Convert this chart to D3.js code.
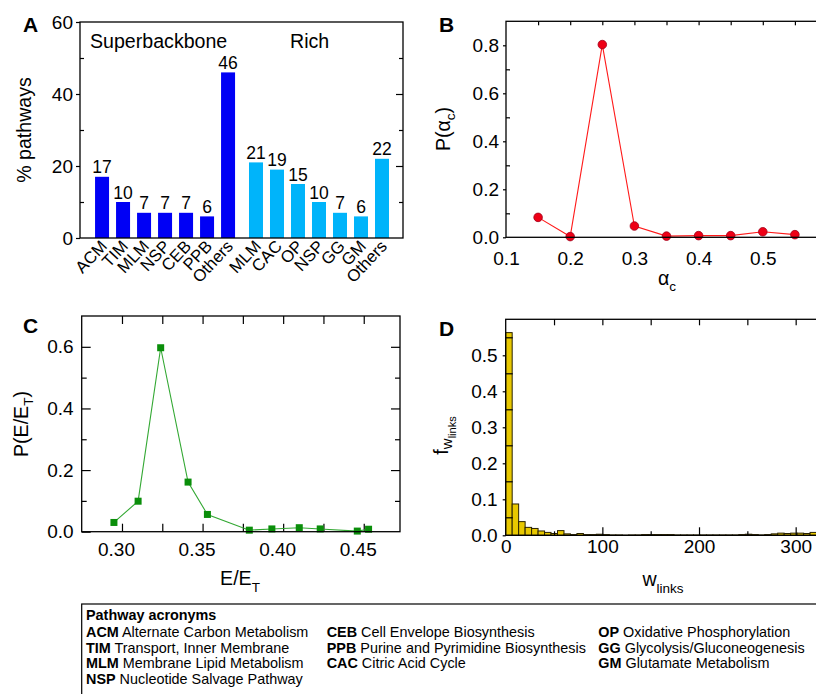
<!DOCTYPE html>
<html>
<head>
<meta charset="utf-8">
<script src="https://cdn.jsdelivr.net/npm/d3@7"></script>
<style>
body { margin: 0; background: #fff; }
svg { display: block; font-family: "Liberation Sans", Arial, Helvetica, sans-serif; }
</style>
</head>
<body>
<div id="chart"></div>
<script>
// Panel A: % pathways per group
var catsSB = ["ACM", "TIM", "MLM", "NSP", "CEB", "PPB", "Others"];
var valsSB = [17, 10, 7, 7, 7, 6, 46];
var catsRich = ["MLM", "CAC", "OP", "NSP", "GG", "GM", "Others"];
var valsRich = [21, 19, 15, 10, 7, 6, 22];

// Panel B: P(alpha_c)
var alphaC = [0.15, 0.20, 0.25, 0.30, 0.35, 0.40, 0.45, 0.50, 0.55];
var pAlpha = [0.083, 0.003, 0.803, 0.047, 0.005, 0.007, 0.007, 0.023, 0.011];

// Panel C: P(E/E_T)
var eRatio = [0.295, 0.310, 0.324, 0.341, 0.353, 0.379, 0.393, 0.410, 0.423, 0.446, 0.453];
var pE = [0.030, 0.099, 0.597, 0.161, 0.056, 0.005, 0.009, 0.013, 0.009, 0.002, 0.008];

// Panel D: histogram of w_links
var binW = 6.7;
var fLinks = [0.563, 0.087, 0.038, 0.022, 0.019, 0.012, 0.008, 0.005, 0.013, 0.004,
              0.002, 0.005, 0.002, 0.002, 0.003, 0.002, 0.001, 0.001, 0.0005, 0.001,
              0.001, 0.002, 0.002, 0.002, 0.002, 0.002, 0.001, 0.001, 0.001, 0.001,
              0.001, 0.001, 0.001, 0.001, 0.001, 0.001, 0.002, 0.003, 0.002, 0.001,
              0.002, 0.004, 0.006, 0.005, 0.006, 0.006, 0.005, 0.008, 0.010, 0.012];

// Legend
var legendCols = [
    [["ACM", "Alternate Carbon Metabolism"], ["TIM", "Transport, Inner Membrane"],
     ["MLM", "Membrane Lipid Metabolism"], ["NSP", "Nucleotide Salvage Pathway"]],
    [["CEB", "Cell Envelope Biosynthesis"], ["PPB", "Purine and Pyrimidine Biosynthesis"],
     ["CAC", "Citric Acid Cycle"]],
    [["OP", "Oxidative Phosphorylation"], ["GG", "Glycolysis/Gluconeogenesis"],
     ["GM", "Glutamate Metabolism"]]
];

var svg = d3.select("#chart")
    .append("svg")
    .attr("width", 816)
    .attr("height", 694);

var TICK_FS = 19;
var TITLE_FS = "19.6px";

// helper: add an axis, strip the domain, style the labels
function addAxis(gen, tx, ty) {
    var a = svg.append("g")
        .attr("transform", "translate(" + tx + "," + ty + ")")
        .attr("font-size", null)
        .attr("font-family", null)
        .call(gen);
    a.select(".domain").remove();
    a.selectAll("line").attr("stroke", "#000").attr("stroke-width", 1.2);
    a.selectAll("text").style("font-size", TICK_FS + "px").attr("fill", "#000");
    return a;
}

function frame(x0, y0, x1, y1) {
    svg.append("rect")
        .attr("x", x0).attr("y", y0)
        .attr("width", x1 - x0).attr("height", y1 - y0)
        .attr("fill", "none").attr("stroke", "#000").attr("stroke-width", 1.3);
}

function panelLetter(t, x, y) {
    svg.append("text").attr("x", x).attr("y", y)
        .style("font-size", "21px").style("font-weight", "bold").text(t);
}

// ---------------- Panel A ----------------
var xA = d3.scaleLinear().domain([-1.05, 14.33]).range([80, 403]);
var yA = d3.scaleLinear().domain([0, 60]).range([238, 22]);
var barHalf = (xA(1) - xA(0)) / 3;
var richOffset = 7.33;

var barsA = [];
catsSB.forEach(function(c, i) { barsA.push({cat: c, v: valsSB[i], pos: i, col: "#0000f5"}); });
catsRich.forEach(function(c, i) { barsA.push({cat: c, v: valsRich[i], pos: i + richOffset, col: "#00b4fa"}); });

svg.append("g").selectAll("rect")
    .data(barsA)
    .enter()
    .append("rect")
    .attr("x", function(d) { return xA(d.pos) - barHalf; })
    .attr("y", function(d) { return yA(d.v); })
    .attr("width", barHalf * 2)
    .attr("height", function(d) { return yA(0) - yA(d.v); })
    .attr("fill", function(d) { return d.col; });

svg.append("g").selectAll("text")
    .data(barsA)
    .enter()
    .append("text")
    .attr("x", function(d) { return xA(d.pos); })
    .attr("y", function(d) { return yA(d.v) - 3.5; })
    .attr("text-anchor", "middle")
    .style("font-size", "17.5px")
    .text(function(d) { return d.v; });

// rotated category labels
svg.append("g").selectAll("text")
    .data(barsA)
    .enter()
    .append("text")
    .attr("transform", function(d) {
        return "translate(" + (xA(d.pos) + 6) + "," + 247 + ") rotate(-47)";
    })
    .attr("text-anchor", "end")
    .style("font-size", "16.8px")
    .text(function(d) { return d.cat; });

addAxis(d3.axisLeft(yA).tickValues([0, 20, 40, 60]).tickSizeInner(4).tickSizeOuter(0).tickPadding(3), 80, 0);
addAxis(d3.axisLeft(yA).tickValues([10, 30, 50]).tickSizeInner(-4).tickSizeOuter(0).tickFormat(""), 80, 0);
addAxis(d3.axisRight(yA).tickValues([20, 40]).tickSizeInner(-7).tickSizeOuter(0).tickFormat(""), 403, 0);
addAxis(d3.axisRight(yA).tickValues([10, 30, 50]).tickSizeInner(-4).tickSizeOuter(0).tickFormat(""), 403, 0);
frame(80, 22, 403, 238);

svg.append("text").attr("x", 90).attr("y", 48).style("font-size", TITLE_FS).text("Superbackbone");
svg.append("text").attr("x", 290).attr("y", 48).style("font-size", TITLE_FS).text("Rich");
svg.append("text")
    .attr("transform", "translate(31,130) rotate(-90)")
    .attr("text-anchor", "middle")
    .style("font-size", TITLE_FS)
    .text("% pathways");
panelLetter("A", 23, 32);

// ---------------- Panel B ----------------
var xB = d3.scaleLinear().domain([0.1, 0.6]).range([506, 827]);
var yB = d3.scaleLinear().domain([0, 0.9]).range([237.3, 21.3]);

addAxis(d3.axisBottom(xB).tickValues([0.1, 0.2, 0.3, 0.4, 0.5]).tickSizeInner(0).tickSizeOuter(0)
    .tickPadding(14.5).tickFormat(d3.format(".1f")), 0, 237.3);
addAxis(d3.axisTop(xB).tickValues(d3.range(0.15, 0.58, 0.05)).tickSizeInner(-4).tickSizeOuter(0).tickFormat(""), 0, 21.3);
addAxis(d3.axisLeft(yB).tickValues([0, 0.2, 0.4, 0.6, 0.8]).tickSizeInner(3).tickSizeOuter(0)
    .tickPadding(4).tickFormat(d3.format(".1f")), 506, 0);
addAxis(d3.axisLeft(yB).tickValues([0.1, 0.3, 0.5, 0.7]).tickSizeInner(-4).tickSizeOuter(0).tickFormat(""), 506, 0);

var lineB = d3.line()
    .x(function(d, i) { return xB(alphaC[i]); })
    .y(function(d) { return yB(d); });
svg.append("path")
    .attr("d", lineB(pAlpha))
    .attr("fill", "none").attr("stroke", "#ff1a1a").attr("stroke-width", 1.1);
svg.append("g").selectAll("circle")
    .data(pAlpha)
    .enter()
    .append("circle")
    .attr("cx", function(d, i) { return xB(alphaC[i]); })
    .attr("cy", function(d) { return yB(d); })
    .attr("r", 4.3)
    .attr("fill", "#ee0016").attr("stroke", "#a0001a").attr("stroke-width", 0.8);
frame(506, 21.3, 840, 237.3);

var tB = svg.append("text").attr("x", 667).attr("y", 285).attr("text-anchor", "middle").style("font-size", TITLE_FS);
tB.append("tspan").text("α");
tB.append("tspan").attr("dy", 6).style("font-size", "13.5px").text("c");
var tBy = svg.append("text").attr("transform", "translate(450,129) rotate(-90)")
    .attr("text-anchor", "middle").style("font-size", TITLE_FS);
tBy.append("tspan").text("P(α");
tBy.append("tspan").attr("dy", 5).style("font-size", "13.5px").text("c");
tBy.append("tspan").attr("dy", -5).text(")");
panelLetter("B", 439, 32);

// ---------------- Panel C ----------------
var xC = d3.scaleLinear().domain([0.275, 0.4725]).range([81.7, 400]);
var yC = d3.scaleLinear().domain([0, 0.7]).range([531.7, 316]);

var axC = addAxis(d3.axisBottom(xC).tickValues([0.30, 0.35, 0.40, 0.45]).tickSizeInner(0).tickSizeOuter(0)
    .tickPadding(11).tickFormat(d3.format(".2f")), 0, 531.7);
axC.selectAll("text").attr("dx", -6);
var cTicks = d3.range(0.30, 0.47, 0.025);
addAxis(d3.axisTop(xC).tickValues(cTicks).tickSizeInner(-8).tickSizeOuter(0).tickFormat(""), 0, 316);
addAxis(d3.axisBottom(xC).tickValues(cTicks).tickSizeInner(-8).tickSizeOuter(0).tickFormat(""), 0, 531.7);
addAxis(d3.axisLeft(yC).tickValues([0, 0.2, 0.4, 0.6]).tickSizeInner(-9).tickSizeOuter(0)
    .tickPadding(8).tickFormat(d3.format(".1f")), 81.7, 0);
addAxis(d3.axisLeft(yC).tickValues([0.1, 0.3, 0.5]).tickSizeInner(-5).tickSizeOuter(0).tickFormat(""), 81.7, 0);
addAxis(d3.axisRight(yC).tickValues([0.2, 0.4, 0.6]).tickSizeInner(-9).tickSizeOuter(0).tickFormat(""), 400, 0);
addAxis(d3.axisRight(yC).tickValues([0.1, 0.3, 0.5]).tickSizeInner(-5).tickSizeOuter(0).tickFormat(""), 400, 0);

var lineC = d3.line()
    .x(function(d, i) { return xC(eRatio[i]); })
    .y(function(d) { return yC(d); });
svg.append("path")
    .attr("d", lineC(pE))
    .attr("fill", "none").attr("stroke", "#33a833").attr("stroke-width", 1.1);
svg.append("g").selectAll("rect")
    .data(pE)
    .enter()
    .append("rect")
    .attr("x", function(d, i) { return xC(eRatio[i]) - 3.5; })
    .attr("y", function(d) { return yC(d) - 3.5; })
    .attr("width", 7).attr("height", 7)
    .attr("fill", "#0a8e0a");
frame(81.7, 316, 400, 531.7);

var tC = svg.append("text").attr("x", 240).attr("y", 585).attr("text-anchor", "middle").style("font-size", TITLE_FS);
tC.append("tspan").text("E/E");
tC.append("tspan").attr("dy", 7).style("font-size", "13.5px").text("T");
var tCy = svg.append("text").attr("transform", "translate(27.5,424) rotate(-90)")
    .attr("text-anchor", "middle").style("font-size", TITLE_FS);
tCy.append("tspan").text("P(E/E");
tCy.append("tspan").attr("dy", 5).style("font-size", "13.5px").text("T");
tCy.append("tspan").attr("dy", -5).text(")");
panelLetter("C", 23, 333);

// ---------------- Panel D ----------------
var xD = d3.scaleLinear().domain([0, 335]).range([505.7, 829.5]);
var yD = d3.scaleLinear().domain([0, 0.6]).range([535.3, 319.3]);

svg.append("g").selectAll("rect")
    .data(fLinks)
    .enter()
    .append("rect")
    .attr("x", function(d, i) { return xD(i * binW); })
    .attr("y", function(d) { return yD(d); })
    .attr("width", xD(binW) - xD(0))
    .attr("height", function(d) { return yD(0) - yD(d); })
    .attr("fill", "#e8c800").attr("stroke", "#2a2200").attr("stroke-width", 1);

addAxis(d3.axisBottom(xD).tickValues([0, 100, 200, 300]).tickSizeInner(0).tickSizeOuter(0)
    .tickPadding(4.5).tickFormat(d3.format("d")), 0, 535.3);
addAxis(d3.axisBottom(xD).tickValues([100, 200, 300]).tickSizeInner(-8).tickSizeOuter(0).tickFormat(""), 0, 535.3);
addAxis(d3.axisBottom(xD).tickValues([50, 150, 250]).tickSizeInner(-4).tickSizeOuter(0).tickFormat(""), 0, 535.3);
addAxis(d3.axisTop(xD).tickValues([50, 100, 150, 200, 250, 300]).tickSizeInner(-6).tickSizeOuter(0).tickFormat(""), 0, 319.3);
addAxis(d3.axisLeft(yD).tickValues([0, 0.1, 0.2, 0.3, 0.4, 0.5]).tickSizeInner(3).tickSizeOuter(0)
    .tickPadding(5).tickFormat(d3.format(".1f")), 505.7, 0);
addAxis(d3.axisLeft(yD).tickValues([0.05, 0.15, 0.25, 0.35, 0.45, 0.55]).tickSizeInner(-7).tickSizeOuter(0).tickFormat(""), 505.7, 0);
frame(505.7, 319.3, 840, 535.3);

var tD = svg.append("text").attr("x", 663).attr("y", 586).attr("text-anchor", "middle").style("font-size", TITLE_FS);
tD.append("tspan").text("w");
tD.append("tspan").attr("dy", 7).style("font-size", "13.5px").text("links");
var tDy = svg.append("text").attr("transform", "translate(448,435.5) rotate(-90)")
    .attr("text-anchor", "middle").style("font-size", TITLE_FS);
tDy.append("tspan").text("f");
tDy.append("tspan").attr("dy", 4).style("font-size", "15px").text("w");
tDy.append("tspan").attr("dy", 4).style("font-size", "11px").text("links");
panelLetter("D", 439, 336);

// ---------------- Legend box ----------------
svg.append("rect")
    .attr("x", 81.7).attr("y", 604)
    .attr("width", 760).attr("height", 120)
    .attr("fill", "none").attr("stroke", "#000").attr("stroke-width", 1.2);

svg.append("text").attr("x", 86).attr("y", 620)
    .style("font-size", "14.4px").style("font-weight", "bold").text("Pathway acronyms");

var colX = [86, 326.7, 598.3];
legendCols.forEach(function(col, c) {
    svg.append("g").selectAll("text")
        .data(col)
        .enter()
        .append("text")
        .attr("x", colX[c])
        .attr("y", function(d, i) { return 637 + i * 15.7; })
        .style("font-size", "14.4px")
        .each(function(d) {
            var t = d3.select(this);
            t.append("tspan").style("font-weight", "bold").text(d[0]);
            t.append("tspan").text(" " + d[1]);
        });
});
</script>
</body>
</html>
